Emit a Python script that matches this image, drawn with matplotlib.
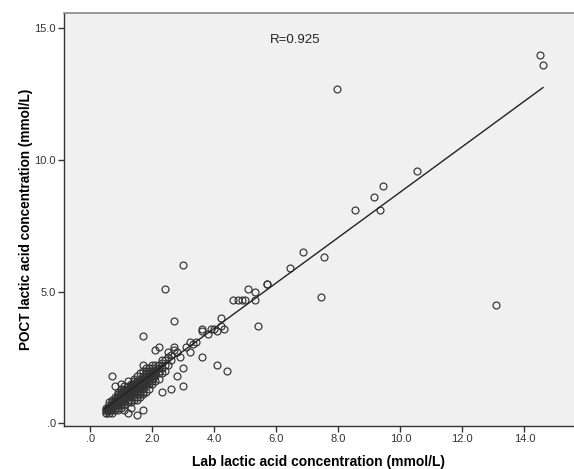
"""Scatter of POCT vs lab lactic acid concentration with a linear fit line (SPSS style)."""

import matplotlib

matplotlib.use("Agg")
import matplotlib.pyplot as plt

plt.rcParams["font.family"] = ["Liberation Sans", "DejaVu Sans"]

# dense cluster of low values (0.1 mmol/L grid)
lab_low = [
    0.5, 0.5, 0.5, 0.5, 0.5,
    0.6, 0.6, 0.6, 0.6, 0.6, 0.6,
    0.7, 0.7, 0.7, 0.7, 0.7, 0.7, 0.7,
    0.8, 0.8, 0.8, 0.8, 0.8, 0.8, 0.8,
    0.9, 0.9, 0.9, 0.9, 0.9, 0.9, 0.9, 0.9,
    1.0, 1.0, 1.0, 1.0, 1.0, 1.0, 1.0, 1.0, 1.0,
    1.1, 1.1, 1.1, 1.1, 1.1, 1.1, 1.1, 1.1, 1.1,
    1.2, 1.2, 1.2, 1.2, 1.2, 1.2, 1.2, 1.2, 1.2,
    1.3, 1.3, 1.3, 1.3, 1.3, 1.3, 1.3, 1.3, 1.3,
    1.4, 1.4, 1.4, 1.4, 1.4, 1.4, 1.4, 1.4, 1.4,
    1.5, 1.5, 1.5, 1.5, 1.5, 1.5, 1.5, 1.5, 1.5, 1.5,
    1.6, 1.6, 1.6, 1.6, 1.6, 1.6, 1.6, 1.6, 1.6,
    1.7, 1.7, 1.7, 1.7, 1.7, 1.7, 1.7, 1.7, 1.7, 1.7, 1.7, 1.7,
    1.8, 1.8, 1.8, 1.8, 1.8, 1.8, 1.8, 1.8, 1.8,
    1.9, 1.9, 1.9, 1.9, 1.9, 1.9, 1.9, 1.9,
    2.0, 2.0, 2.0, 2.0, 2.0, 2.0, 2.0, 2.0,
    2.1, 2.1, 2.1, 2.1, 2.1, 2.1, 2.1,
    2.2, 2.2, 2.2, 2.2, 2.2, 2.2,
    2.3, 2.3, 2.3, 2.3, 2.3,
]
poct_low = [
    0.4, 0.5, 0.5, 0.6, 0.4,
    0.4, 0.5, 0.6, 0.7, 0.8, 0.5,
    0.5, 0.6, 0.7, 0.8, 0.9, 1.8, 0.4,
    0.5, 0.6, 0.7, 0.8, 0.9, 1.0, 1.4,
    0.6, 0.7, 0.8, 0.9, 1.0, 1.1, 1.2, 0.5,
    0.6, 0.7, 0.8, 0.9, 1.0, 1.1, 1.2, 1.3, 1.5,
    0.7, 0.8, 0.9, 1.0, 1.1, 1.2, 1.3, 1.4, 0.5,
    0.4, 0.8, 0.9, 1.0, 1.1, 1.2, 1.3, 1.4, 1.6,
    0.8, 0.9, 1.0, 1.1, 1.2, 1.3, 1.4, 1.5, 0.6,
    0.9, 1.0, 1.1, 1.2, 1.3, 1.4, 1.5, 1.6, 1.7,
    0.3, 0.9, 1.0, 1.1, 1.2, 1.3, 1.4, 1.5, 1.6, 1.8,
    1.0, 1.1, 1.2, 1.3, 1.4, 1.5, 1.6, 1.7, 1.9,
    0.5, 1.1, 1.2, 1.3, 1.4, 1.5, 1.6, 1.7, 1.8, 2.0, 2.2, 3.3,
    1.2, 1.4, 1.5, 1.6, 1.7, 1.8, 1.9, 2.0, 2.1,
    1.3, 1.5, 1.6, 1.7, 1.8, 1.9, 2.0, 2.1,
    1.5, 1.6, 1.7, 1.8, 1.9, 2.0, 2.1, 2.2,
    1.6, 1.8, 1.9, 2.0, 2.1, 2.2, 2.8,
    1.7, 1.9, 2.0, 2.1, 2.2, 2.9,
    1.2, 1.9, 2.1, 2.3, 2.4,
]

# in-between values that fill the cross-hatched core of the cluster
lab_core = [
    0.55, 0.55, 0.65, 0.65, 0.65, 0.75, 0.75, 0.75, 0.85, 0.85, 0.85, 0.85,
    0.95, 0.95, 0.95, 0.95, 1.05, 1.05, 1.05, 1.05, 1.15, 1.15, 1.15, 1.15,
    1.25, 1.25, 1.25, 1.25, 1.35, 1.35, 1.35, 1.35, 1.45, 1.45, 1.45, 1.45,
    1.55, 1.55, 1.55, 1.65, 1.65, 1.65, 1.75, 1.75, 1.75, 1.85, 1.85, 1.95,
    1.95, 2.05, 2.05, 2.15,
]
poct_core = [
    0.45, 0.55, 0.5, 0.6, 0.7, 0.65, 0.75, 0.85, 0.7, 0.8, 0.9, 1.0,
    0.8, 0.9, 1.0, 1.1, 0.9, 1.0, 1.1, 1.2, 0.95, 1.05, 1.15, 1.25,
    1.05, 1.15, 1.25, 1.35, 1.15, 1.25, 1.35, 1.45, 1.25, 1.35, 1.45, 1.55,
    1.35, 1.45, 1.55, 1.45, 1.55, 1.65, 1.55, 1.65, 1.75, 1.65, 1.75, 1.75,
    1.85, 1.85, 1.95, 2.05,
]

# sparser points between 2.4 and 5.8 mmol/L
lab_mid = [
    2.4, 2.4, 2.4, 2.4, 2.5, 2.5, 2.5, 2.6, 2.6, 2.6, 2.7, 2.7, 2.7,
    2.8, 2.8, 2.9, 3.0, 3.0, 3.0, 3.1, 3.2, 3.2, 3.4, 3.3, 3.6, 3.6,
    3.6, 3.8, 3.9, 4.0, 4.1, 4.1, 4.2, 4.2, 4.3, 4.4, 4.6, 4.75,
    4.9, 5.0, 5.1, 5.3, 5.3, 5.4, 5.7, 5.7,
]
poct_mid = [
    2.0, 2.2, 2.4, 5.1, 2.2, 2.5, 2.7, 1.3, 2.4, 2.6, 2.8, 2.9, 3.9,
    1.8, 2.7, 2.5, 1.4, 2.1, 6.0, 2.9, 3.1, 2.7, 3.1, 3.0, 2.5, 3.5,
    3.6, 3.4, 3.6, 3.6, 3.5, 2.2, 4.0, 3.7, 3.6, 2.0, 4.7, 4.7,
    4.7, 4.7, 5.1, 5.0, 4.7, 3.7, 5.3, 5.3,
]

# high values
lab_high = [6.45, 6.85, 7.45, 7.55, 7.95, 8.55, 9.15, 9.35, 9.45, 10.55, 13.1, 14.5, 14.6]
poct_high = [5.9, 6.5, 4.8, 6.3, 12.7, 8.1, 8.6, 8.1, 9.0, 9.6, 4.5, 14.0, 13.6]

# fitted line ends as drawn in the source
fit_lab = [0.45, 14.6]
fit_poct = [0.55, 12.75]
r_text = "R=0.925"

x_ticks = [0, 2, 4, 6, 8, 10, 12, 14]
x_labels = [".0", "2.0", "4.0", "6.0", "8.0", "10.0", "12.0", "14.0"]
y_ticks = [0, 5, 10, 15]
y_labels = [".0", "5.0", "10.0", "15.0"]

W, H = 574, 469
fig = plt.figure(figsize=(W / 100, H / 100), dpi=100)
ax = fig.add_axes([64 / W, (H - 425.7) / H, (W - 64) / W, (425.7 - 13.3) / H])
ax.set_facecolor("#f0f0f0")

lab = lab_low + lab_core + lab_mid + lab_high
poct = poct_low + poct_core + poct_mid + poct_high
ax.plot(
    lab,
    poct,
    linestyle="none",
    marker="o",
    markersize=5.0,
    markerfacecolor="none",
    markeredgecolor="#333333",
    markeredgewidth=0.85,
)
ax.plot(fit_lab, fit_poct, color="#222222", linewidth=1.0)

ax.set_xlim(-0.85, 15.6)
ax.set_ylim(-0.09, 15.57)
ax.set_xticks(x_ticks)
ax.set_xticklabels(x_labels)
ax.set_yticks(y_ticks)
ax.set_yticklabels(y_labels)
ax.tick_params(length=4, width=1, color="#333333", labelsize=8, labelcolor="#333333", pad=2)

ax.spines["right"].set_visible(False)
ax.spines["top"].set_color("#888888")
ax.spines["top"].set_linewidth(1.2)
for side in ("left", "bottom"):
    ax.spines[side].set_color("#333333")
    ax.spines[side].set_linewidth(1.0)

ax.set_xlabel("Lab lactic acid concentration (mmol/L)", fontsize=10, fontweight="bold", labelpad=8)
ax.set_ylabel("POCT lactic acid concentration (mmol/L)", fontsize=9.8, fontweight="bold")
ax.yaxis.set_label_coords(-0.061, 0.5)
ax.text(5.8, 14.55, r_text, fontsize=9.5, color="#222222", va="center", ha="left")

fig.savefig("out.png", dpi=100)
